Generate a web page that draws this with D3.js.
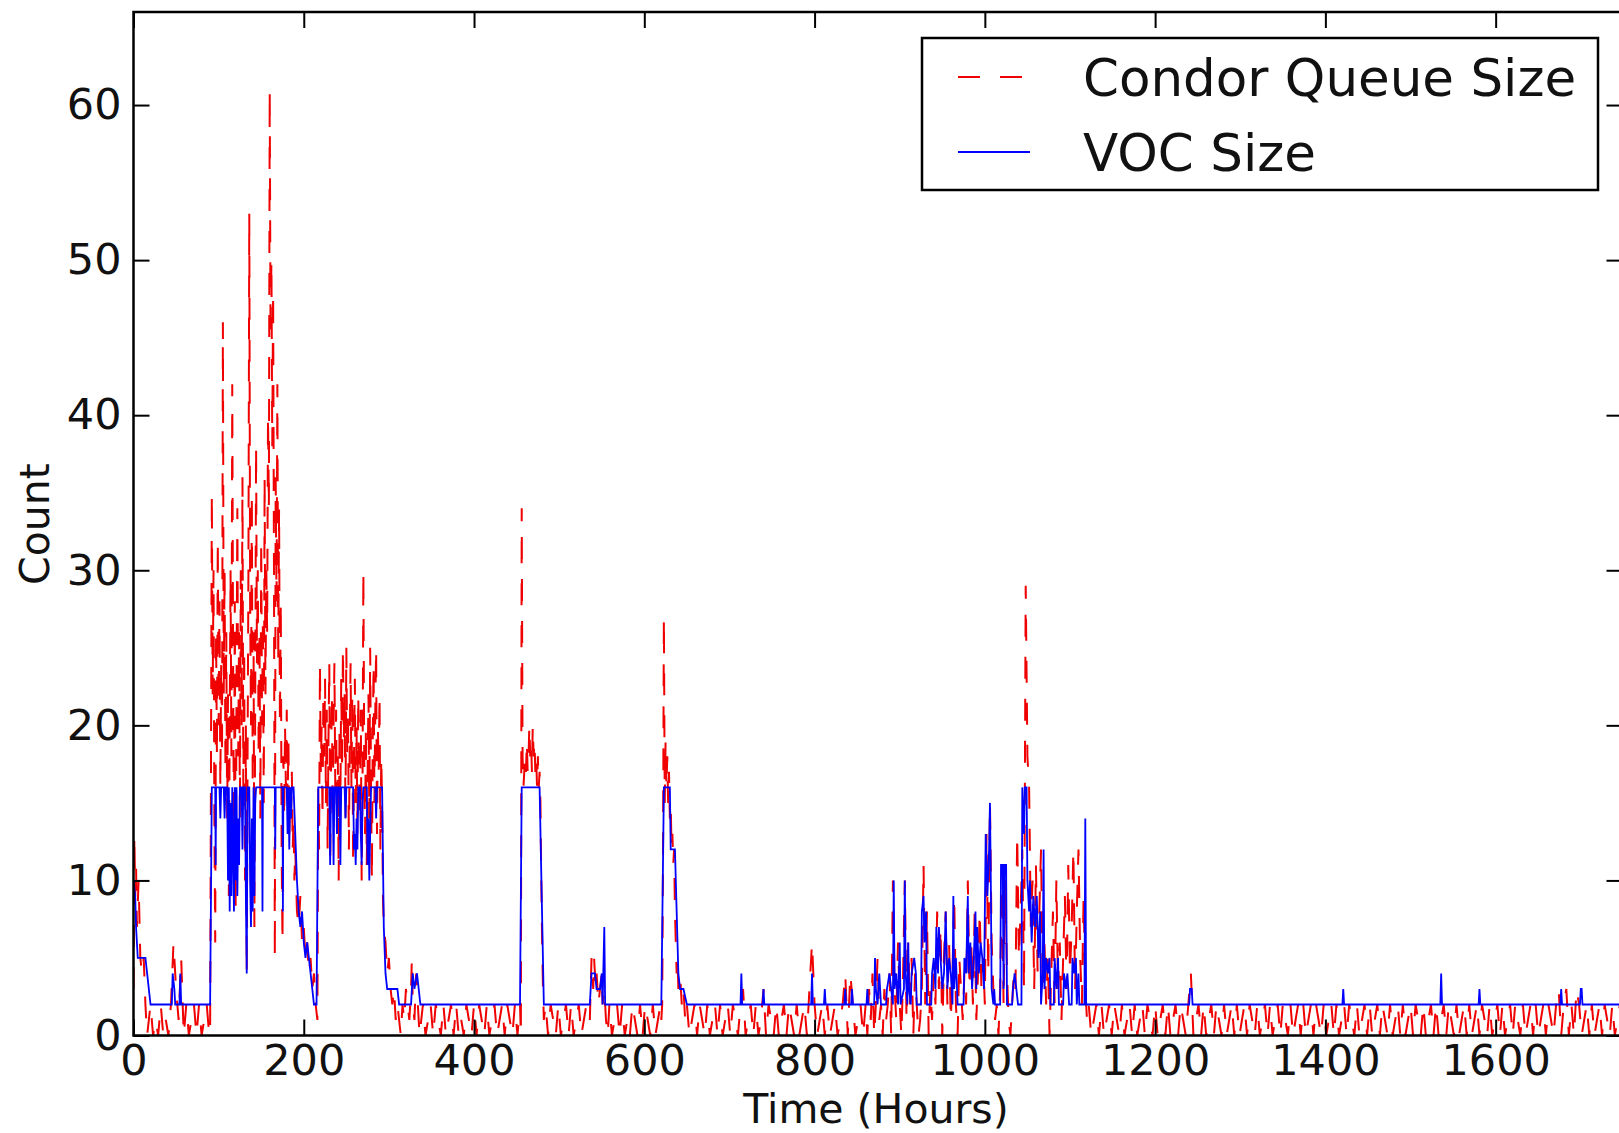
<!DOCTYPE html>
<html>
<head>
<meta charset="utf-8">
<script src="https://d3js.org/d3.v7.min.js"></script>
<style>
body { margin: 0; background: #fff; }
svg { display: block; font-family: "DejaVu Sans", sans-serif; }
</style>
</head>
<body>
<svg id="drawing_region"></svg>
<script>
// ---- data: [hour, count] ----
const xTicks = [0, 200, 400, 600, 800, 1000, 1200, 1400, 1600];
const yTicks = [0, 10, 20, 30, 40, 50, 60];
const seriesNames = ['Condor Queue Size', 'VOC Size'];

// Condor queue size
const queueStart = [[0,3],[1,13],[2,9],[3,11],[4,7],[6,10],[8,5],[10,4],[12,5],[14,2],[16,0],[18,1]];
const queueQuietA = [2,0,1,0,2,0,1,0,2,6,3,1,5,0,2,0,1,2,0,2,0,1,2,0];           // from 20h, every 3h
const queueBurst1 = [[90,0],[91,17],[92,35],[93,22],[94,30],[95,14],[96,6],[97,26],[98,18],[99,32],[100,20],
  [101,28],[102,16],[103,24],[104,18],[105,46],[106,22],[107,30],[108,17],[109,26],[110,14],[111,22],[112,9],
  [113,20],[114,30],[115,18],[116,42],[117,24],[118,12],[119,28],[120,8],[121,22],[122,34],[123,18],[124,26],
  [125,14],[126,30],[127,20],[128,36],[129,16],[130,25],[131,10],[132,20],[133,4],[134,18],[135,30],[136,53],
  [137,28],[138,20],[139,35],[140,16],[141,26],[142,7],[143,22],[144,38],[145,24],[146,30],[147,18],[148,26],
  [149,14],[150,32],[151,20],[152,27],[153,15],[154,36],[155,22],[156,30],[157,26],[158,40],[159,34],[160,61],
  [161,45],[162,50],[163,38],[164,48],[165,30],[166,5],[167,36],[168,28],[169,42],[170,24],[171,34],[172,20],
  [173,28],[174,12],[175,6],[176,18],[177,14],[178,20],[179,16],[180,21],[181,15],[182,19],[183,13],[184,16],
  [185,14],[186,17],[187,12],[188,14],[189,10],[190,12],[192,8],[194,7],[196,9],[198,6],[200,7],[202,5],
  [204,6],[206,4],[208,5],[210,3],[212,4],[214,2],[216,1]];
const queueBurst2 = [[217,16],[218,12],[219,24],[220,17],[221,20],[222,14],[223,22],[224,18],[225,23],[226,15],
  [227,21],[228,12],[229,19],[230,24],[231,11],[232,17],[233,22],[234,14],[235,20],[236,24],[237,16],[238,21],
  [239,13],[240,18],[241,10],[242,20],[243,15],[244,23],[245,17],[246,25],[247,19],[248,22],[249,14],[250,25],
  [251,18],[252,21],[253,12],[254,19],[255,24],[256,16],[257,22],[258,11],[259,18],[260,23],[261,15],[262,20],
  [263,13],[264,22],[265,17],[266,14],[267,21],[268,10],[269,16],[270,30],[271,18],[272,13],[273,20],[274,11],
  [275,17],[276,22],[277,14],[278,25],[279,16],[280,10],[281,19],[282,24],[283,15],[284,21],[285,25],[286,13],
  [287,20],[288,17],[289,22],[290,12],[291,18],[292,15],[293,9],[294,7],[296,6],[298,4],[300,5],[302,3],
  [304,2],[306,3],[308,1],[310,2],[312,1],[314,0],[316,2],[318,1],[320,3],[322,2],[324,1],[326,3],[327,5],
  [328,2],[330,1],[332,4],[334,2],[336,0],[338,1]];
const queueQuietB = [2,0,1,2,0,2,1,0,2,0,1,2,0,2,0,1,0,2,1,0,2,0,2,1,0,2,0,1,2,0,1,2,0,2,1,0,2,0]; // from 340h
const queueSpike456 = [[454,2],[455,0],[456,34],[457,18],[458,16],[459,17],[460,18],[461,17],[462,19],[463,17],
  [464,18],[465,20],[466,18],[467,19],[468,17],[469,20],[470,18],[471,19],[472,17],[473,18],[474,16],[475,18],
  [476,16],[477,17],[478,15],[479,10],[480,6],[481,3],[482,1]];
const queueQuietC = [2,0,2,1,0,2,0,1,2,0,2,0,1,2,0,1,2];                           // from 484h
const queueBump540 = [[534,2],[536,1],[537,3],[538,5],[539,4],[540,3],[541,5],[542,4],[543,3],[544,4],
  [546,2],[548,3],[550,4],[551,2],[553,3],[555,1],[557,0]];
const queueQuietD = [2,0,1,2,0,2,0,1,0,2,1,0,2,0,2,1,0,2,0,1,2];                   // from 559h
const queueSpike623 = [[620,1],[621,2],[622,12],[623,27],[624,15],[625,19],[626,16],[627,18],[628,15],[629,17],
  [630,14],[631,15],[632,12],[633,13],[634,11],[635,12],[636,8],[637,6],[638,4],[639,5],[640,3],[642,4],
  [644,2],[646,3],[648,1]];
const queueQuietE = [2,0,1,2,0,2,1,0,2,0, 1,2,0,2,0,1,2,0,2,1, 0,2,3,0,1,2,0,2,0,1,
  3,0,2,1,0,2,0,1,2,0, 2,1,0,2,0,1,2,0,3,6, 2,0,1,2,0,2,0,1,2,0, 1,2,4,0,4,2,0,1,2,0];  // from 650h
const queueDense = [2,0,3,1,4,0,2,5,1,2, 0,3,1,2,4,0,10,3,1,6, 2,0,4,10,1,6,2,5,0,4,
  2,0,1,3,11,2,8,0,3,1, 4,2,8,3,7,0,5,8,2,6, 1,4,9,2,0,5,3,1,4,2, 10,3,6,2,8,1,4,8,3,5,
  2,13,4,15,6,3,1,2,0,3, 11,2,10,4,1,0,2,4,3,13, 5,8,12,3,29,18,16,7,10,3, 11,4,8,12,3,6,2,5,0,4,
  8,2,10,3,6,1,5,9,3,11, 4,7,12,3,8,12,5,2,9,3, 1];                                  // from 860h, every 2h
const queueTail = [2,0,1,2,0,2,0,1,2,0, 2,1,0,2,0,1,2,0,2,0, 1,2,0,2,1,0,2,0,1,2, 0,2,0,1,2,0,2,1,0,2,
  4,0,1,2,0,2,0,1,2,0, 2,1,0,2,0,1,2,0,2,0, 1,2,0,2,1,0,2,0,1,2, 0,2,0,1,2,0,2,1,0,2,
  0,1,2,0,2,0,1,2,0,2, 1,0,2,0,1,2,0,2,0,1, 2,0,2,1,0,2,0,1,2,0, 2,0,1,2,0,2,1,0,2,0,
  1,2,0,2,0,1,2,0,2,1, 0,2,0,1,2,0,2,0,1,2, 0,2,1,0,2,0,1,2,0,2, 0,1,2,0,2,1,0,2,0,1,
  2,0,2,0,1,2,0,2,1,0, 2,0,1,2,0,2,0,1,2,0, 2,1,0,2,3,0,2,3,0,2, 0,3,2,0,1,2,0,2,0,1,
  2,0,2,1,0,2,0,1,2,0];                                                                // from 1122h

// VOC size
const vocStart = [[0,10],[2,9],[3,7],[5,5],[14,5],[16,4],[20,2],[45,2],[46,4],[48,3],[49,2],[54,2],[55,4],[56,2],[90,2],[92,16]];
const vocBurst1 = [[96,16],[96.5,11],[97,16],[101,16],[102,14],[103,16],[106,16],[107,14],[108,16],[110,16],
  [111,10],[112,16],[113,8],[114,15],[115,9],[116,16],[117,12],[118,8],[119,16],[120,10],[121,16],[122,9],
  [123,14],[124,11],[125,16],[127,16],[128,12],[129,16],[131,16],[132,9],[133,4],[134,16],[136,16],[137,10],
  [138,7],[139,14],[140,8],[141,16],[142,9],[143,15],[144,16],[151,16],[151.5,8],[152,16],[166,16],[166.5,12],
  [167,16],[175,16],[175.5,8],[176,16],[180,16],[181,13],[182,16],[183,12],[184,16],[185,14],[186,16],[188,16],
  [190,13],[192,10],[194,8],[196,7],[198,8],[200,6],[202,5],[204,6],[206,5],[208,4],[210,3],[212,2],[215,2],[217,16]];
const vocBurst2 = [[230,16],[231,11],[232,16],[234,16],[235,11],[236,16],[238,16],[239,13],[240,16],[242,16],
  [243,11],[244,16],[248,16],[249,14],[250,16],[258,16],[259,12],[260,13],[261,11],[262,14],[263,12],[264,16],
  [266,16],[267,13],[268,11],[269,15],[270,16],[274,16],[275,11],[276,14],[277,10],[278,13],[279,16],[284,16],
  [285,14],[286,16],[292,16],[294,7],[296,4],[298,3],[310,3],[312,2],[326,2],[327,3],[328,4],[330,3],[333,4],
  [335,3],[337,2]];
const vocMid = [[454,2],[456,16],[477,16],[482,2],[536,2],[538,4],[542,4],[544,3],[548,3],[550,4],[551,2],
  [553,7],[554,2],[620,2],[623,16],[630,16],[631,12],[636,12],[638,8],[640,4],[642,3],[646,3],[650,2],
  [713,2],[714,4],[715,2],[739,2],[740,3],[741,2],[796,2],[797,4],[798,2],[811,2],[812,3],[813,2],
  [835,2],[836,3],[837,2],[843,2],[844,3],[845,2]];
const vocDense = [[861,2],[862,3],[863,2],[870,2],[871,5],[872,3],[874,2],[876,4],[878,2],[884,2],[885,3],
  [888,4],[890,3],[892,2],[893,10],[894,3],[896,4],[898,2],[900,6],[901,2],[905,3],[906,10],[907,4],[909,2],
  [910,6],[911,3],[913,2],[914,4],[917,5],[919,4],[920,2],[925,2],[926,8],[928,9],[929,6],[931,8],[932,2],
  [937,2],[938,4],[940,5],[942,3],[943,7],[945,4],[946,7],[948,5],[950,3],[952,4],[954,8],[956,3],[958,5],
  [960,4],[962,2],[963,9],[964,3],[966,5],[968,2],[975,2],[976,5],[978,4],[980,9],[981,4],[983,6],[985,3],
  [987,5],[989,8],[990,3],[991,7],[993,4],[995,6],[997,5],[999,3],[1001,13],[1003,9],[1005,12],[1006,15],
  [1007,10],[1008,3],[1010,2],[1011,3],[1012,2],[1018,2],[1019,11],[1021,11],[1022,3],[1023,11],[1025,11],
  [1026,2],[1032,2],[1033,3],[1035,4],[1037,3],[1039,2],[1043,2],[1044,16],[1046,13],[1047,16],[1049,16],
  [1050,10],[1052,8],[1053,10],[1055,6],[1057,9],[1059,7],[1061,9],[1063,5],[1065,8],[1066,2],[1068,4],
  [1069,12],[1070,3],[1072,5],[1074,4],[1076,5],[1077,2],[1081,2],[1082,5],[1084,3],[1086,5],[1087,2],
  [1092,2],[1093,4],[1095,3],[1097,4],[1099,2],[1102,2],[1103,5],[1105,4],[1107,5],[1108,2],[1110,4],
  [1111,2],[1117,2],[1118,14],[1119,2]];
const vocTail = [[1240,2],[1241,3],[1243,3],[1244,2],[1420,2],[1421,3],[1422,2],[1535,2],[1536,4],[1537,2],
  [1580,2],[1581,3],[1582,2],[1676,2],[1677,3],[1678,2],[1699,2],[1700,3],[1701,3],[1702,2],[1750,2]];

// evenly sampled stretches -> [hour, count]
function sampled(start, step, values) {
    return values.map((v, i) => [start + i * step, v]);
}

const queueData = [].concat(
    queueStart, sampled(20, 3, queueQuietA), queueBurst1, queueBurst2,
    sampled(340, 3, queueQuietB), queueSpike456, sampled(484, 3, queueQuietC), queueBump540,
    sampled(559, 3, queueQuietD), queueSpike623, sampled(650, 3, queueQuietE),
    sampled(860, 2, queueDense), sampled(1122, 3, queueTail));
const vocData = [].concat(vocStart, vocBurst1, vocBurst2, vocMid, vocDense, vocTail);

// ---- layout ----
const config = {
    width: 1619,
    height: 1133,
    margin: {top: 12, left: 133.5},
    inner_width: 1489,
    inner_height: 1023.5,
    xmax: 1749,
    ymax: 66
};

const svg = d3.select('#drawing_region')
    .attr('width', config.width)
    .attr('height', config.height)
    .style('overflow', 'hidden');

const chart = svg.append('g')
    .attr('transform', `translate(${config.margin.left}, ${config.margin.top})`);

const xscale = d3.scaleLinear().domain([0, config.xmax]).range([0, config.inner_width]);
const yscale = d3.scaleLinear().domain([0, config.ymax]).range([config.inner_height, 0]);

svg.append('defs').append('clipPath').attr('id', 'plot_clip')
    .append('rect')
    .attr('width', config.inner_width)
    .attr('height', config.inner_height);

const line = d3.line()
    .x(d => xscale(d[0]))
    .y(d => yscale(d[1]));

const plot = chart.append('g').attr('clip-path', 'url(#plot_clip)');

plot.append('path')
    .datum(queueData)
    .attr('fill', 'none')
    .attr('stroke', '#f00000')
    .attr('stroke-width', 2)
    .attr('stroke-dasharray', '22 20')
    .attr('d', line);

plot.append('path')
    .datum(vocData)
    .attr('fill', 'none')
    .attr('stroke', '#0000ff')
    .attr('stroke-width', 1.8)
    .attr('d', line);

// ---- axes (ticks point inward, on all four sides) ----
const tick_len = 16;
const tick_font = '43px';

const xaxis_group = chart.append('g')
    .attr('transform', `translate(0, ${config.inner_height})`)
    .call(d3.axisBottom(xscale).tickValues(xTicks).tickFormat(d3.format('d'))
        .tickSizeInner(-tick_len).tickSizeOuter(0).tickPadding(9));
const xaxis_top = chart.append('g')
    .call(d3.axisTop(xscale).tickValues(xTicks).tickSizeInner(-tick_len).tickSizeOuter(0).tickFormat(''));
const yaxis_group = chart.append('g')
    .call(d3.axisLeft(yscale).tickValues(yTicks).tickSizeInner(-tick_len).tickSizeOuter(0).tickPadding(12));
const yaxis_right = chart.append('g')
    .attr('transform', `translate(${config.inner_width}, 0)`)
    .call(d3.axisRight(yscale).tickValues(yTicks).tickSizeInner(-tick_len).tickSizeOuter(0).tickFormat(''));

[xaxis_group, xaxis_top, yaxis_group, yaxis_right].forEach(g => {
    g.select('.domain').remove();
    g.selectAll('.tick line').attr('stroke', '#000').attr('stroke-width', 2);
    g.selectAll('.tick text')
        .attr('fill', '#111')
        .style('font-size', tick_font)
        .style('font-family', '"DejaVu Sans", sans-serif');
});

chart.append('rect')
    .attr('width', config.inner_width)
    .attr('height', config.inner_height)
    .attr('fill', 'none')
    .attr('stroke', '#000')
    .attr('stroke-width', 2.5);

// ---- axis labels ----
svg.append('text')
    .attr('x', 876)
    .attr('y', 1123)
    .attr('text-anchor', 'middle')
    .style('font-size', '41px')
    .attr('fill', '#111')
    .text('Time (Hours)');

svg.append('text')
    .attr('transform', 'translate(49, 524) rotate(-90)')
    .attr('text-anchor', 'middle')
    .style('font-size', '41px')
    .attr('fill', '#111')
    .text('Count');

// ---- legend ----
const legend = svg.append('g');
legend.append('rect')
    .attr('x', 922)
    .attr('y', 38)
    .attr('width', 676)
    .attr('height', 152)
    .attr('fill', '#fff')
    .attr('stroke', '#000')
    .attr('stroke-width', 2.5);

const legend_rows = [
    {name: seriesNames[0], color: '#f00000', dash: '22 20', y: 77},
    {name: seriesNames[1], color: '#0000ff', dash: null, y: 152}
];
legend_rows.forEach(r => {
    legend.append('line')
        .attr('x1', 958).attr('x2', 1030)
        .attr('y1', r.y).attr('y2', r.y)
        .attr('stroke', r.color)
        .attr('stroke-width', 2)
        .attr('stroke-dasharray', r.dash);
    legend.append('text')
        .attr('x', 1083)
        .attr('y', r.y)
        .attr('dy', '0.36em')
        .style('font-size', '51.5px')
        .attr('fill', '#111')
        .text(r.name);
});
</script>
</body>
</html>
